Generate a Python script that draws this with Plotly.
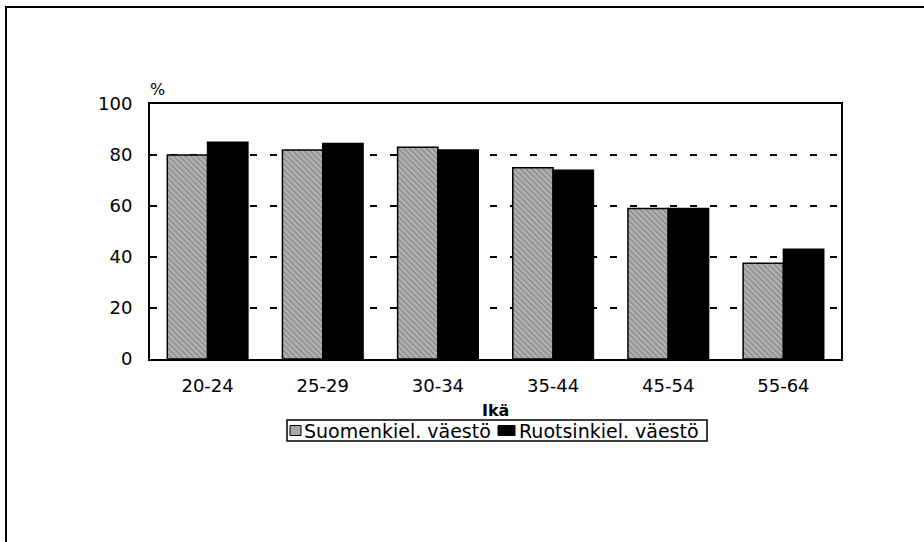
import plotly.graph_objects as go

categories = ["20-24", "25-29", "30-34", "35-44", "45-54", "55-64"]
suomi = [80, 82, 83, 75, 59, 37.5]
ruotsi = [85, 84.5, 82, 74, 59, 43]
series_names = ["Suomenkiel. väestö", "Ruotsinkiel. väestö"]
y_ticks = [0, 20, 40, 60, 80, 100]

W, H = 924, 542
L, R, T, B = 150, 841, 104, 359
pw, ph = R - L, B - T

def px(x):
    return (x - L) / pw

def py(y):
    return (B - y) / ph

FONT = "DejaVu Sans"
GRAY_BG, GRAY_FG = "#b4b4b4", "#555555"

fig = go.Figure()
fig.add_trace(go.Bar(
    x=categories, y=suomi, name=series_names[0],
    marker=dict(color=GRAY_BG, line=dict(color="black", width=1.5),
                pattern=dict(shape="\\", fgcolor=GRAY_FG, bgcolor=GRAY_BG,
                             size=4, solidity=0.35)),
))
fig.add_trace(go.Bar(
    x=categories, y=ruotsi, name=series_names[1],
    marker=dict(color="black", line=dict(color="black", width=1.5)),
))

# manual legend geometry (pixels)
LEG_X0, LEG_X1, LEG_Y0, LEG_Y1 = 287, 707, 420, 441
leg_mid = (LEG_Y0 + LEG_Y1) / 2

shapes = [
    dict(type="line", xref="paper", yref="paper", x0=px(5), x1=px(924),
         y0=py(7), y1=py(7), line=dict(color="black", width=2)),
    dict(type="line", xref="paper", yref="paper", x0=px(6), x1=px(6),
         y0=py(7), y1=py(542), line=dict(color="black", width=2)),
    dict(type="rect", xref="paper", yref="paper", x0=px(LEG_X0), x1=px(LEG_X1),
         y0=py(LEG_Y0), y1=py(LEG_Y1), line=dict(color="black", width=1.5),
         fillcolor="white", layer="above"),
    dict(type="rect", xref="paper", yref="paper", x0=px(290), x1=px(301),
         y0=py(leg_mid - 5), y1=py(leg_mid + 5), line=dict(color="black", width=1),
         fillcolor="#a8a8a8", layer="above"),
    dict(type="rect", xref="paper", yref="paper", x0=px(498), x1=px(515),
         y0=py(leg_mid - 5), y1=py(leg_mid + 5), line=dict(color="black", width=1),
         fillcolor="black", layer="above"),
]

annotations = [
    dict(text="%", x=px(157), y=py(89), xref="paper", yref="paper",
         xanchor="center", yanchor="middle", showarrow=False,
         font=dict(family=FONT, size=16)),
    dict(text="<b>Ikä</b>", x=0.5, y=py(410), xref="paper", yref="paper",
         xanchor="center", yanchor="middle", showarrow=False,
         font=dict(family=FONT, size=16)),
    dict(text=series_names[0], x=px(302), y=py(leg_mid), xref="paper", yref="paper",
         xanchor="left", yanchor="middle", showarrow=False,
         font=dict(family=FONT, size=19)),
    dict(text=series_names[1], x=px(517), y=py(leg_mid), xref="paper", yref="paper",
         xanchor="left", yanchor="middle", showarrow=False,
         font=dict(family=FONT, size=19)),
]

fig.update_layout(
    width=W, height=H,
    margin=dict(l=L, r=W - R, t=T, b=H - B, pad=0),
    paper_bgcolor="white", plot_bgcolor="white",
    barmode="group", bargap=0.3, bargroupgap=0,
    font=dict(family=FONT, size=18, color="black"),
    showlegend=False,
    xaxis=dict(showline=True, linecolor="black", linewidth=2, mirror=True,
               showgrid=False, ticks="", ticklabelstandoff=9,
               tickfont=dict(family=FONT, size=18)),
    yaxis=dict(range=[0, 100], tickvals=y_ticks, showline=True, linecolor="black",
               linewidth=2, mirror=True, showgrid=True, gridcolor="black",
               gridwidth=1.5, griddash="7px,13px", zeroline=False, ticks="",
               ticklabelstandoff=12, tickfont=dict(family=FONT, size=18)),
    annotations=annotations,
    shapes=shapes,
)

fig.write_html("out.html", config={"displayModeBar": False},
               post_script="document.body.style.margin='0';document.body.style.overflow='hidden';")
